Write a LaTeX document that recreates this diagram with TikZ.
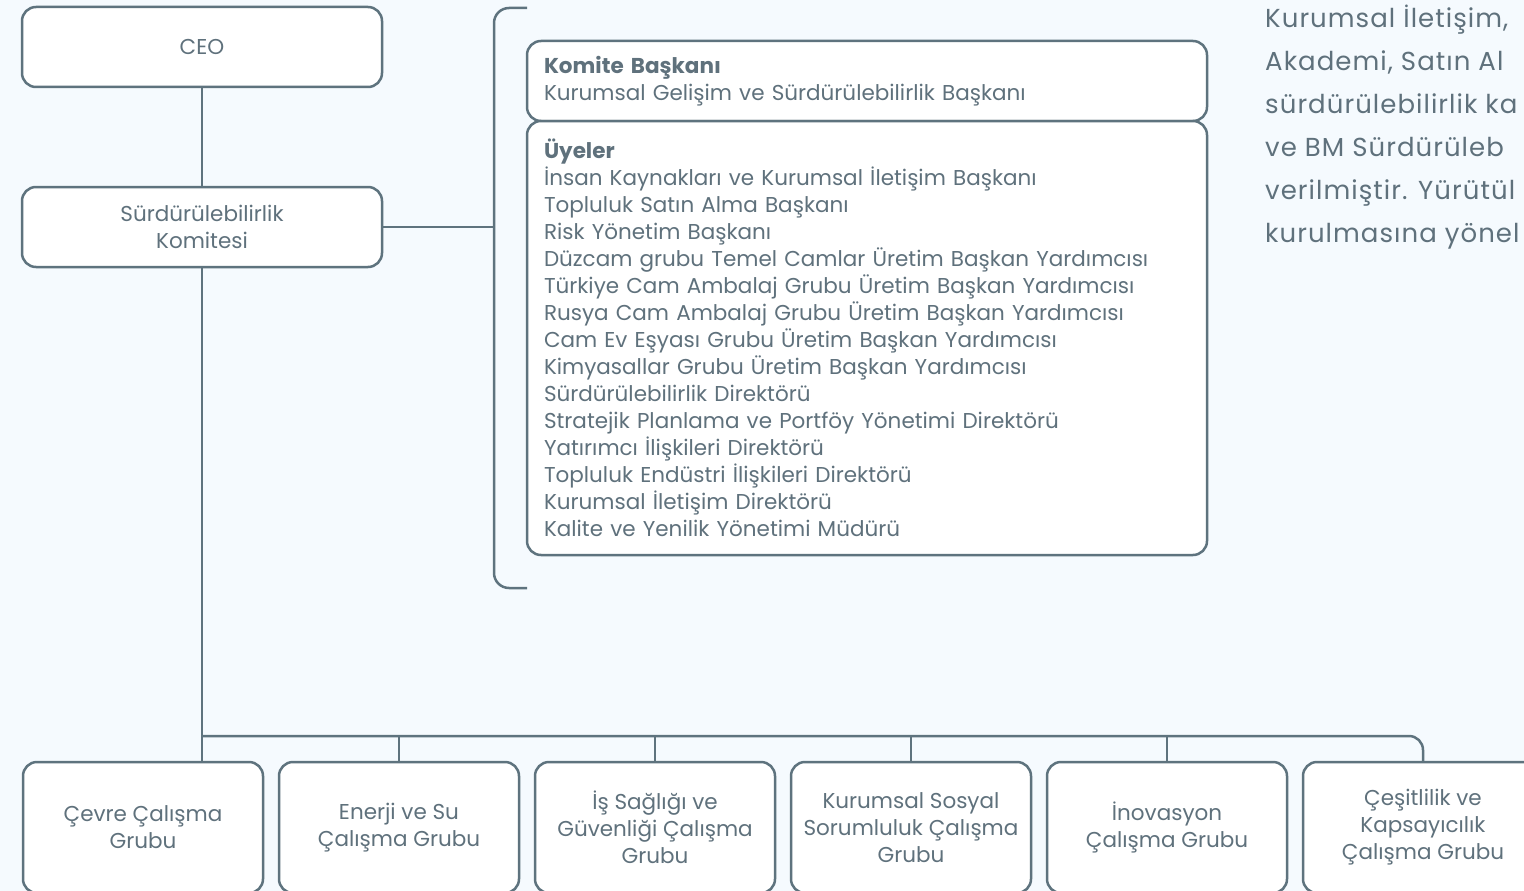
\documentclass[tikz,border=0pt]{standalone}
\usepackage{fontspec}
\setmainfont{Poppins}
\usetikzlibrary{positioning}
\definecolor{bgblue}{HTML}{F5FAFE}
\definecolor{slate}{HTML}{5E737E}
\definecolor{inkgray}{HTML}{5F717C}
\tikzstyle{block} = [rectangle, draw=slate, line width=2.5pt, fill=white,
    rounded corners=14pt, text=inkgray, align=center, outer sep=0pt,
    minimum width=360pt, minimum height=80pt, font=\fontsize{21.5}{27}\selectfont]
\tikzstyle{group} = [block, minimum width=240pt, minimum height=131pt]
\tikzstyle{panel} = [block, minimum width=680pt, align=left,
    text width=646pt, inner xsep=17pt]
\tikzstyle{line} = [draw=slate, line width=2.5pt]
\begin{document}
\begin{tikzpicture}[x=1pt,y=-1pt]
    \fill[bgblue] (0,0) rectangle (1524,891);
    \useasboundingbox (0,0) rectangle (1524,891);
    \clip (0,0) rectangle (1524,891);

    \node[block] (ceo) at (202,47) {CEO};
    \node[block,below=100pt of ceo] (komite) {Sürdürülebilirlik\\Komitesi};
    \draw[line] (ceo) -- (komite);

    % members of the committee
    \node[panel,anchor=north west] (baskan) at (527,41)
        {\textbf{Komite Başkanı}\\Kurumsal Gelişim ve Sürdürülebilirlik Başkanı};
    \node[panel,anchor=north,minimum height=434pt] (uyeler) at (baskan.south)
        {\textbf{Üyeler}\\
        İnsan Kaynakları ve Kurumsal İletişim Başkanı\\
        Topluluk Satın Alma Başkanı\\
        Risk Yönetim Başkanı\\
        Düzcam grubu Temel Camlar Üretim Başkan Yardımcısı\\
        Türkiye Cam Ambalaj Grubu Üretim Başkan Yardımcısı\\
        Rusya Cam Ambalaj Grubu Üretim Başkan Yardımcısı\\
        Cam Ev Eşyası Grubu Üretim Başkan Yardımcısı\\
        Kimyasallar Grubu Üretim Başkan Yardımcısı\\
        Sürdürülebilirlik Direktörü\\
        Stratejik Planlama ve Portföy Yönetimi Direktörü\\
        Yatırımcı İlişkileri Direktörü\\
        Topluluk Endüstri İlişkileri Direktörü\\
        Kurumsal İletişim Direktörü\\
        Kalite ve Yenilik Yönetimi Müdürü};

    \coordinate (brace) at (494,8);
    \draw[line,rounded corners=15pt] (baskan.north west |- brace) -- (brace)
        -- (494,588) -- (527,588);
    \draw[line] (komite.east) -- (komite.east -| brace);

    \node[anchor=north west,inner sep=0pt,text=inkgray,align=left,
        font=\fontsize{26}{43}\selectfont\addfontfeatures{LetterSpace=4}] (note) at (1265,5)
        {Kurumsal İletişim,\\Akademi, Satın Al\\sürdürülebilirlik ka\\
        ve BM Sürdürüleb\\verilmiştir. Yürütül\\kurulmasına yönel};

    % working groups
    \node[group] (cevre) at (143,827.5) {Çevre Çalışma\\Grubu};
    \node[group,right=16pt of cevre] (enerji) {Enerji ve Su\\Çalışma Grubu};
    \node[group,right=16pt of enerji] (isg) {İş Sağlığı ve\\Güvenliği Çalışma\\Grubu};
    \node[group,right=16pt of isg] (sosyal) {Kurumsal Sosyal\\Sorumluluk Çalışma\\Grubu};
    \node[group,right=16pt of sosyal] (inovasyon) {İnovasyon\\Çalışma Grubu};
    \node[group,right=16pt of inovasyon] (cesit) {Çeşitlilik ve\\Kapsayıcılık\\Çalışma Grubu};

    \coordinate (bus) at (202,736);
    \draw[line] (komite.south) -- (cevre.north -| komite.south);
    \draw[line,rounded corners=14pt] (bus) -| (cesit.north);
    \draw[line] (enerji.north) -- (enerji.north |- bus);
    \draw[line] (isg.north) -- (isg.north |- bus);
    \draw[line] (sosyal.north) -- (sosyal.north |- bus);
    \draw[line] (inovasyon.north) -- (inovasyon.north |- bus);
\end{tikzpicture}
\end{document}
